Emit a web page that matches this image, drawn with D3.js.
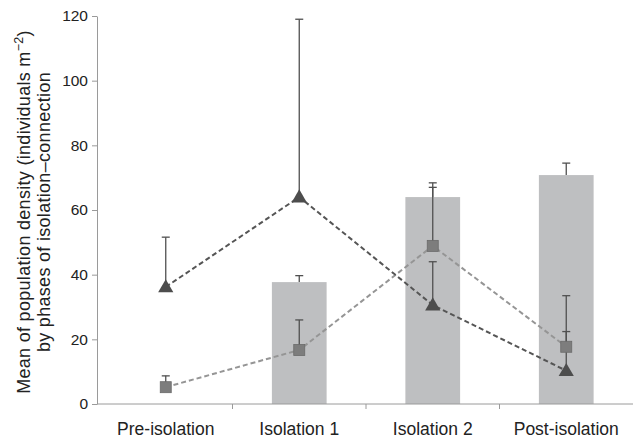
<html>
<head>
<style>
  body { margin: 0; background: #fff; }
  text { font-family: "Liberation Sans", Arial, sans-serif; fill: #222; }
  .axis path, .axis line { stroke: #9a9a9a; }
</style>
</head>
<body>
<svg width="633" height="439"></svg>
<script src="https://d3js.org/d3.v7.min.js"></script>
<script>

var phases = ["Pre-isolation", "Isolation 1", "Isolation 2", "Post-isolation"];
var yTicks = [0, 20, 40, 60, 80, 100, 120];

// grey bars (no bar for pre-isolation)
var barMean = [null, 37.7, 64.0, 70.8];
var barErr  = [null, 39.7, 68.4, 74.5];

// triangle series
var triMean = [36.2, 64.0, 30.6, 10.3];
var triErr  = [51.6, 119.0, 44.0, 22.4];

// square series
var sqMean = [5.2, 16.7, 48.9, 17.7];
var sqErr  = [8.7, 26.0, 67.0, 33.5];

var svg = d3.select("svg"),
    margin = {top: 16, right: 0, bottom: 35, left: 99},
    width = +svg.attr("width") - margin.left - margin.right,
    height = +svg.attr("height") - margin.top - margin.bottom,
    g = svg.append("g").attr("transform", "translate(" + margin.left + "," + margin.top + ")");

var x = d3.scaleBand()
    .domain(phases)
    .range([0, width])
    .paddingInner(0.59)
    .paddingOuter(0.295);

var xc = function(d) { return x(d) + x.bandwidth() / 2; };

var y = d3.scaleLinear()
    .domain([0, 120])
    .range([height, 0]);

// bars
var bars = phases.map(function(p, i) { return {p: p, v: barMean[i], e: barErr[i]}; })
    .filter(function(d) { return d.v != null; });

g.selectAll(".bar")
    .data(bars)
  .enter().append("rect")
    .attr("class", "bar")
    .attr("x", function(d) { return x(d.p); })
    .attr("width", x.bandwidth())
    .attr("y", function(d) { return y(d.v); })
    .attr("height", function(d) { return y(0) - y(d.v); })
    .attr("fill", "#bebfc1");

function errBars(data, cls) {
  var sel = g.selectAll("." + cls)
      .data(data)
    .enter().append("g")
      .attr("class", cls)
      .attr("stroke", "#505050")
      .attr("stroke-width", 1.3);
  sel.append("line")
      .attr("x1", function(d) { return xc(d.p); })
      .attr("x2", function(d) { return xc(d.p); })
      .attr("y1", function(d) { return y(d.v); })
      .attr("y2", function(d) { return y(d.e); });
  sel.append("line")
      .attr("x1", function(d) { return xc(d.p) - 4; })
      .attr("x2", function(d) { return xc(d.p) + 4; })
      .attr("y1", function(d) { return y(d.e); })
      .attr("y2", function(d) { return y(d.e); });
}

errBars(bars, "barerr");

var tri = phases.map(function(p, i) { return {p: p, v: triMean[i], e: triErr[i]}; });
var sq = phases.map(function(p, i) { return {p: p, v: sqMean[i], e: sqErr[i]}; });

errBars(tri, "trierr");
errBars(sq, "sqerr");

var line = d3.line()
    .x(function(d) { return xc(d.p); })
    .y(function(d) { return y(d.v); });

g.append("path")
    .datum(sq)
    .attr("fill", "none")
    .attr("stroke", "#959595")
    .attr("stroke-width", 2)
    .attr("stroke-dasharray", "5,3")
    .attr("d", line);

g.append("path")
    .datum(tri)
    .attr("fill", "none")
    .attr("stroke", "#555555")
    .attr("stroke-width", 2)
    .attr("stroke-dasharray", "5,3")
    .attr("d", line);

g.selectAll(".sq")
    .data(sq)
  .enter().append("rect")
    .attr("class", "sq")
    .attr("x", function(d) { return xc(d.p) - 5.5; })
    .attr("y", function(d) { return y(d.v) - 5.5; })
    .attr("width", 11)
    .attr("height", 11)
    .attr("fill", "#7d7d7d")
    .attr("stroke", "#6a6a6a")
    .attr("stroke-width", 0.8);

g.selectAll(".tri")
    .data(tri)
  .enter().append("path")
    .attr("class", "tri")
    .attr("transform", function(d) { return "translate(" + xc(d.p) + "," + (y(d.v) + 1) + ")"; })
    .attr("d", d3.symbol().type(d3.symbolTriangle).size(100))
    .attr("fill", "#4d4d4d");

// axes
var xAxis = g.append("g")
    .attr("class", "axis")
    .attr("transform", "translate(0," + height + ")")
    .call(d3.axisBottom(x).tickSize(0).tickPadding(19));
xAxis.select(".domain").attr("d", "M-2,0H" + width);
xAxis.selectAll("text").style("font-size", "17.5px");

// tick marks between categories
g.selectAll(".sep")
    .data(phases.slice(1))
  .enter().append("line")
    .attr("class", "sep")
    .attr("x1", function(d) { return x(d) - x.step() * x.paddingInner() / 2; })
    .attr("x2", function(d) { return x(d) - x.step() * x.paddingInner() / 2; })
    .attr("y1", height)
    .attr("y2", height + 5)
    .attr("stroke", "#9a9a9a");

var yAxis = g.append("g")
    .attr("class", "axis")
    .attr("transform", "translate(-2,0)")
    .call(d3.axisLeft(y).tickValues(yTicks).tickSize(5).tickSizeOuter(0).tickPadding(4));
yAxis.selectAll("text").style("font-size", "15.5px");

// y title
var title = svg.append("text")
    .attr("transform", "translate(0,212) rotate(-90)")
    .attr("text-anchor", "middle")
    .style("font-size", "18px")
    .style("letter-spacing", "0.3px");
var l1 = title.append("tspan").attr("x", 0).attr("y", 30);
l1.append("tspan").text("Mean of population density (individuals m");
l1.append("tspan").attr("dy", -7).style("font-size", "12.5px").text("\u22122");
l1.append("tspan").attr("dy", 7).text(")");
title.append("tspan").attr("x", 0).attr("y", 50).text("by phases of isolation\u2013connection");

</script>
</body>
</html>
